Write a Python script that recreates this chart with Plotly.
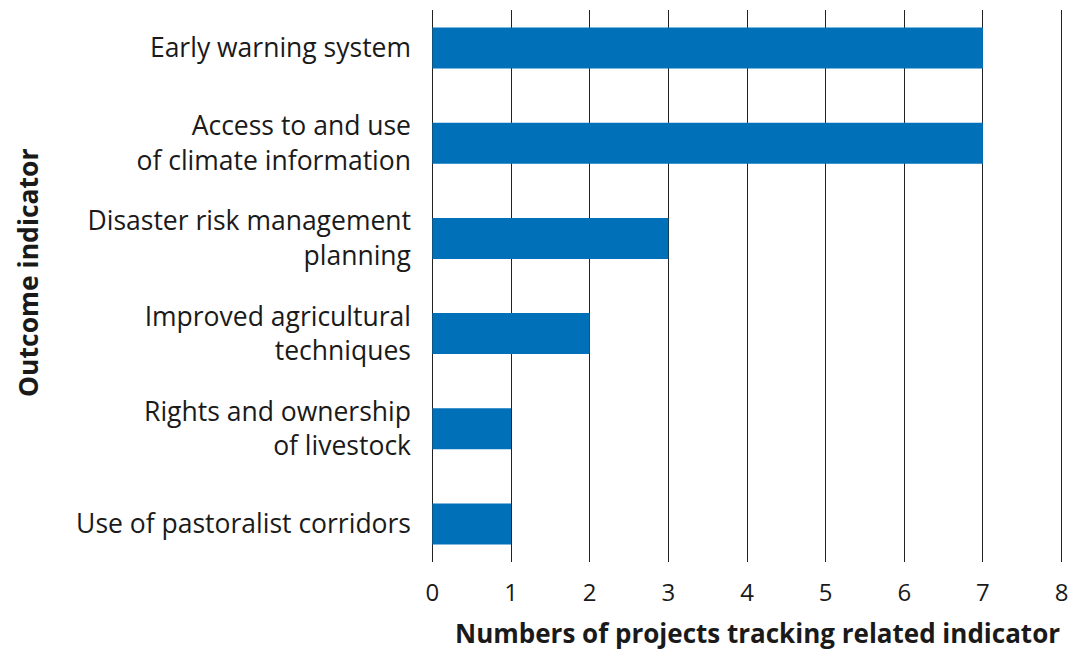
import plotly.graph_objects as go

categories = [
    "Early warning system",
    "Access to and use<br>of climate information",
    "Disaster risk management<br>planning",
    "Improved agricultural<br>techniques",
    "Rights and ownership<br>of livestock",
    "Use of pastoralist corridors",
]
values = [7, 7, 3, 2, 1, 1]
x_ticks = [0, 1, 2, 3, 4, 5, 6, 7, 8]

FONT = "Open Sans"
BLUE = "#0070b8"
TXT = "#1a1a1a"

W, H = 1070, 652
L, R, T, B = 430, 6, 10, 90
PW, PH = W - L - R, H - T - B

fig = go.Figure(
    go.Bar(
        x=values,
        y=categories,
        orientation="h",
        marker=dict(color=BLUE, line=dict(width=0)),
        width=0.43,
    )
)

fig.update_layout(
    width=W,
    height=H,
    margin=dict(l=L, r=R, t=T, b=B),
    paper_bgcolor="white",
    plot_bgcolor="white",
    showlegend=False,
    font=dict(family=FONT, color=TXT, size=26),
)

fig.update_xaxes(
    range=[-0.03, 8.03],
    tickvals=x_ticks,
    ticktext=[str(v) for v in x_ticks],
    showgrid=True,
    gridcolor="#222222",
    gridwidth=1,
    zeroline=False,
    showline=False,
    ticks="",
    tickfont=dict(size=24, family=FONT, color=TXT),
    ticklabelstandoff=14,
    automargin=False,
    fixedrange=True,
)

fig.update_yaxes(
    range=[5.4, -0.4],
    showgrid=False,
    zeroline=False,
    showline=False,
    ticks="",
    tickfont=dict(size=26.5, family=FONT, color=TXT),
    ticklabelstandoff=18,
    automargin=False,
    fixedrange=True,
)

# axis titles placed as annotations at pixel positions
fig.add_annotation(
    text="<b>Numbers of projects tracking related indicator</b>",
    xref="paper", yref="paper",
    x=(757 - L) / PW, y=-(633 - (T + PH)) / PH,
    showarrow=False,
    font=dict(size=26, family=FONT, color=TXT),
    xanchor="center", yanchor="middle",
)
fig.add_annotation(
    text="<b>Outcome indicator</b>",
    xref="paper", yref="paper",
    x=(28 - L) / PW, y=1 - (272 - T) / PH,
    textangle=-90,
    showarrow=False,
    font=dict(size=26.5, family=FONT, color=TXT),
    xanchor="center", yanchor="middle",
)

fig.write_html(
    "out.html",
    config={"displayModeBar": False},
    post_script="document.body.style.margin='0';document.body.style.overflow='hidden';",
)
